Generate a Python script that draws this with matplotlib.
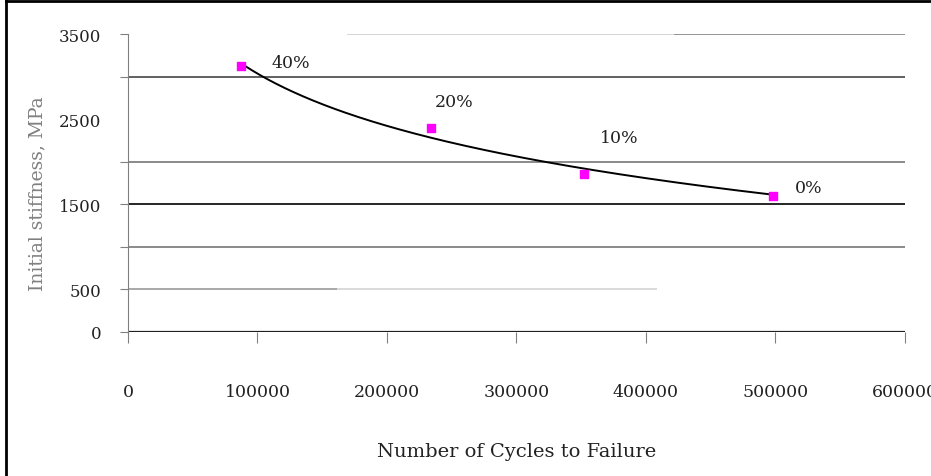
import numpy as np
import matplotlib
matplotlib.use('Agg')
import matplotlib.pyplot as plt
from matplotlib.lines import Line2D

cycles = [87000, 234000, 352000, 498000]
stiffness = [3120, 2400, 1855, 1597]
point_labels = ['40%', '20%', '10%', '0%']
y_ticks = [0, 500, 1000, 1500, 2000, 2500, 3000, 3500]
y_tick_labels = ['0', '500', '', '1500', '', '2500', '', '3500']
x_ticks = [0, 100000, 200000, 300000, 400000, 500000, 600000]

plt.rcParams['font.family'] = ['DejaVu Serif']

fig = plt.figure(figsize=(9.31, 4.77), dpi=100)
ax = fig.add_axes([0.1375, 0.302, 0.8345, 0.6246])

# gridlines, shades/extents as they look in the scan: (y, from, to, colour)
grid = [(3500, 0.283, 0.704, '#d4d4d4'), (3500, 0.704, 1.0, '#959595'),
        (3000, 0, 1, '#606060'),
        (2000, 0, 1, '#8a8a8a'),
        (1500, 0, 1, '#252525'),
        (1000, 0, 1, '#8a8a8a'),
        (500, 0, 0.27, '#a8a8a8'), (500, 0.27, 0.68, '#dadada')]
for yv, a, b, c in grid:
    ax.axhline(yv, a, b, color=c, lw=1.4, zorder=1)
ax.axhline(0, color='#202020', lw=1.6, zorder=1)

# logarithmic trendline fitted to the points
coef = np.polyfit(np.log(cycles), stiffness, 1)
xs = np.linspace(cycles[0] + 2500, 500000, 200)
ax.plot(xs, coef[0] * np.log(xs) + coef[1], color='black', lw=1.4, zorder=3)

ax.scatter(cycles, stiffness, marker='s', s=30, color='#ff00ff', zorder=4)

offsets = [(22, 3), (3, 19), (11.5, 26), (16, 6)]
for x, y, t, off in zip(cycles, stiffness, point_labels, offsets):
    ax.annotate(t, (x, y), xytext=off, textcoords='offset points', fontsize=12.5,
                color='#222222', ha='left', va='center')

ax.set_xlim(0, 600000)
ax.set_ylim(0, 3500)
ax.set_xticks(x_ticks)
ax.set_xticklabels([str(v) for v in x_ticks])
ax.set_yticks(y_ticks)
ax.set_yticklabels(y_tick_labels)
ax.yaxis.get_major_ticks()[5].tick1line.set_visible(False)

for s in ['top', 'right', 'bottom']:
    ax.spines[s].set_visible(False)
ax.spines['left'].set_color('#808080')
ax.spines['left'].set_linewidth(0.8)

ax.tick_params(axis='y', direction='out', length=6, color='#808080', pad=13,
               labelsize=12, labelcolor='#222222')
ax.tick_params(axis='x', direction='out', length=8, color='#808080', pad=29,
               labelsize=12.5, labelcolor='#222222')

ax.set_xlabel('Number of Cycles to Failure', fontsize=14, color='#222222', labelpad=30)
ax.set_ylabel('Initial stiffness, MPa', fontsize=13.5, color='#808080')
ax.yaxis.set_label_coords(-0.105, 0.466)

# frame on the left and top edge
fig.add_artist(Line2D([0.0066, 0.0066], [0, 0.995], transform=fig.transFigure,
                      color='black', lw=2))
fig.add_artist(Line2D([0.0066, 1], [0.995, 0.995], transform=fig.transFigure,
                      color='black', lw=2))

fig.savefig('out.png', dpi=100)
